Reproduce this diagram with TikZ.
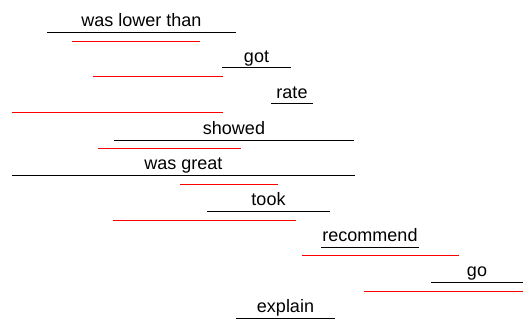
\documentclass[tikz,border=0pt]{standalone}
\usepackage{fontspec}
\setmainfont{Liberation Sans}
\tikzset{word/.style={anchor=base,inner sep=0pt,yshift=5.5pt},
  span/.style={draw=red,color=red}}
\begin{document}
\begin{tikzpicture}[x=1pt,y=-1pt,font=\fontsize{18}{21}\selectfont,line width=1pt,line cap=butt]
                \useasboundingbox (0,0) rectangle (524,326);
                % underlined words
                \foreach \n/\t/\a/\b/\y in {wlt/was lower than/47/236/32.5,got/got/222/291/68,rate/rate/271/313/104,showed/showed/114/354/140,great/was great/12/355/175,took/took/207/330/211,rec/recommend/321/419/247,go/go/431/523/282,expl/explain/236/335/318}
                {\coordinate (\n-l) at (\a,\y);
                \coordinate (\n-r) at (\b,\y);
                \draw (\n-l)--(\n-r) coordinate[midway] (\n-m);
                \node[word] (\n) at (\n-m) {\t};}
                % red spans
                \foreach \n/\a/\b/\y in {wlt/72/200/41.5,got/93/223/77,rate/12/223/113,showed/98/241/148,great/180/278/184,took/113/296/220,rec/302/459/255,go/364/523/291}
                {\coordinate (\n-sl) at (\a,\y);
                \coordinate (\n-sr) at (\b,\y);
                \path[span] (\n-sl)--(\n-sr);}
            \end{tikzpicture}
\end{document}
